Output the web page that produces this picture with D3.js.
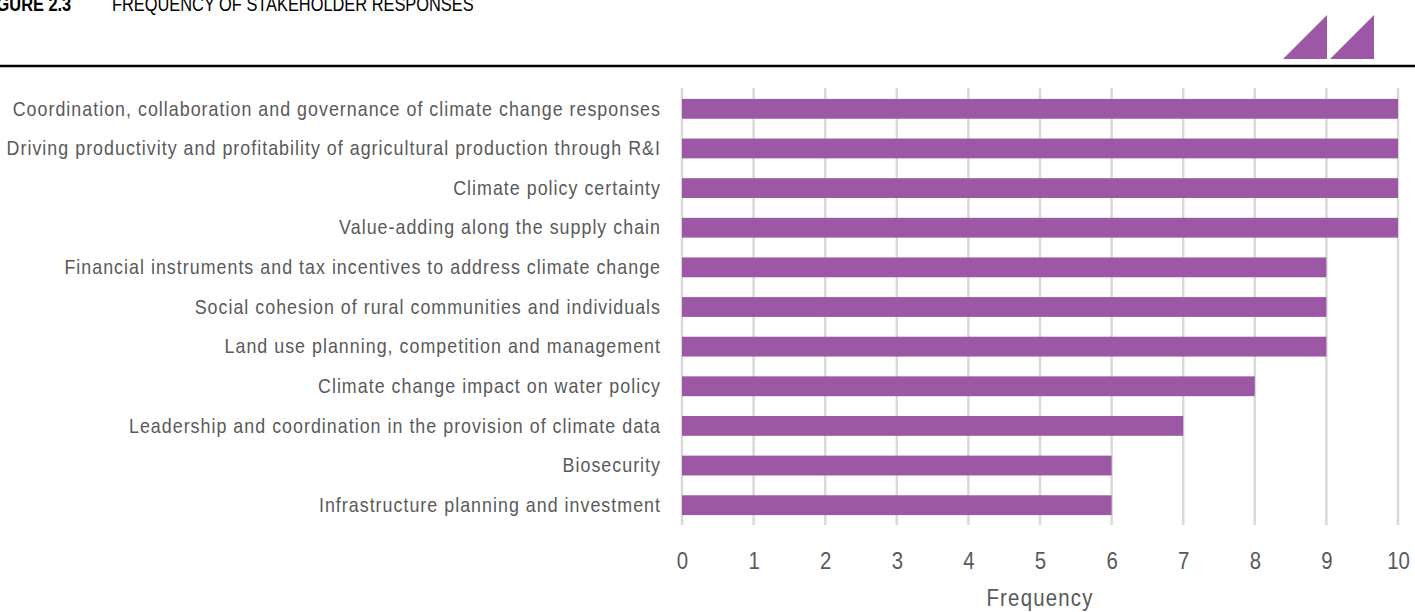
<!DOCTYPE html>
<html>
<head>
<meta charset="utf-8">
<script src="https://cdn.jsdelivr.net/npm/d3@7"></script>
<style>
  body { margin: 0; background: #fff; }
  svg { display: block; font-family: "Liberation Sans Narrow", "Liberation Sans", Arial, sans-serif; }
</style>
</head>
<body>
<div id="chart"></div>
<script>
// chart data
var categories = [
    "Coordination, collaboration and governance of climate change responses",
    "Driving productivity and profitability of agricultural production through R&I",
    "Climate policy certainty",
    "Value-adding along the supply chain",
    "Financial instruments and tax incentives to address climate change",
    "Social cohesion of rural communities and individuals",
    "Land use planning, competition and management",
    "Climate change impact on water policy",
    "Leadership and coordination in the provision of climate data",
    "Biosecurity",
    "Infrastructure planning and investment"
];
var frequency = [10, 10, 10, 10, 9, 9, 9, 8, 7, 6, 6];
var xTicks = [0, 1, 2, 3, 4, 5, 6, 7, 8, 9, 10];

var W = 1415, H = 612;
var purple = "#9c57a5";
var grey = "#595959";
// no narrow font installed, so squeeze the regular one horizontally
var narrow = 0.85;

var svg = d3.select( "#chart" ).append( "svg" )
    .attr( "width", W )
    .attr( "height", H );

// header (top is cut off in the original too)
svg.append( "text" )
    .attr( "transform", "scale(0.82,1)" )
    .attr( "x", -18 / 0.82 )
    .attr( "y", 11 )
    .style( "font-size", "20px" )
    .style( "font-weight", "bold" )
    .style( "fill", "#000" )
    .text( "FIGURE 2.3" );

svg.append( "text" )
    .attr( "transform", "scale(0.82,1)" )
    .attr( "x", 112 / 0.82 )
    .attr( "y", 11 )
    .style( "font-size", "20px" )
    .style( "fill", "#000" )
    .text( "FREQUENCY OF STAKEHOLDER RESPONSES" );

svg.append( "line" )
    .attr( "x1", 0 ).attr( "x2", W )
    .attr( "y1", 66 ).attr( "y2", 66 )
    .style( "stroke", "#000" )
    .style( "stroke-width", 2.5 );

// logo triangles
[ [1283, 1327], [1330, 1374] ].forEach( function( t ) {
    svg.append( "path" )
        .attr( "d", "M" + t[0] + ",59 L" + t[1] + ",59 L" + t[1] + ",15 Z" )
        .style( "fill", purple );
});

// scales
var x = d3.scaleLinear().domain( [ 0, 10 ] ).range( [ 682, 1398 ] );
var y = d3.scaleBand().domain( categories ).range( [ 89, 525 ] ).paddingInner( 0.5 ).paddingOuter( 0.25 );

// gridlines
svg.append( "g" )
    .selectAll( "line" )
    .data( xTicks )
    .enter().append( "line" )
    .attr( "x1", function( d ) { return x( d ); } )
    .attr( "x2", function( d ) { return x( d ); } )
    .attr( "y1", 88 )
    .attr( "y2", 525 )
    .style( "stroke", "#d9d9d9" )
    .style( "stroke-width", 2.5 );

// bars
svg.append( "g" )
    .selectAll( "rect" )
    .data( frequency )
    .enter().append( "rect" )
    .attr( "x", x( 0 ) )
    .attr( "y", function( d, i ) { return y( categories[ i ] ); } )
    .attr( "width", function( d ) { return x( d ) - x( 0 ); } )
    .attr( "height", y.bandwidth() )
    .style( "fill", purple );

// x axis
var xAxis = svg.append( "g" )
    .attr( "transform", "translate(0,525)" )
    .call( d3.axisBottom( x ).tickValues( xTicks ).tickSize( 0 ).tickPadding( 27 ) );
xAxis.select( ".domain" ).remove();
xAxis.selectAll( "text" )
    .attr( "transform", "scale(" + narrow + ",1)" )
    .style( "font-family", "inherit" )
    .style( "font-size", "24px" )
    .style( "fill", grey );

// y axis
var yAxis = svg.append( "g" )
    .attr( "transform", "translate(682,0)" )
    .call( d3.axisLeft( y ).tickSize( 0 ).tickPadding( 21 ) );
yAxis.select( ".domain" ).remove();
yAxis.selectAll( "text" )
    .attr( "transform", "scale(" + narrow + ",1)" )
    .attr( "x", -21 / narrow )
    .style( "font-family", "inherit" )
    .style( "font-size", "21px" )
    .style( "letter-spacing", "1.2px" )
    .style( "fill", grey );

// axis title
svg.append( "text" )
    .attr( "transform", "scale(" + narrow + ",1)" )
    .attr( "x", 1040 / narrow )
    .attr( "y", 606 )
    .style( "text-anchor", "middle" )
    .style( "font-size", "24px" )
    .style( "letter-spacing", "1.4px" )
    .style( "fill", grey )
    .text( "Frequency" );
</script>
</body>
</html>
